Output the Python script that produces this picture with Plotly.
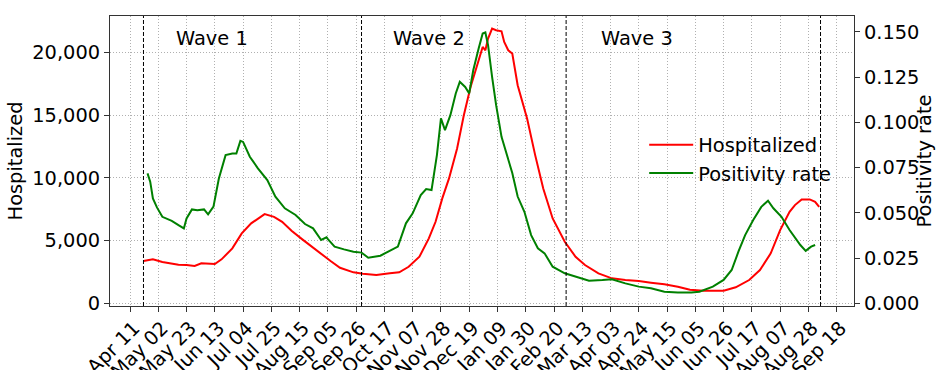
import plotly.graph_objects as go

# ---- data ----
hosp_dates = ["2020-04-21","2020-04-28","2020-05-05","2020-05-12","2020-05-17","2020-05-23","2020-05-29",
              "2020-06-03","2020-06-13","2020-06-18","2020-06-26","2020-07-03","2020-07-10","2020-07-20",
              "2020-07-27","2020-08-02","2020-08-09","2020-08-17","2020-08-24","2020-08-31","2020-09-07",
              "2020-09-14","2020-09-24","2020-10-01","2020-10-11","2020-10-21","2020-10-28","2020-11-04",
              "2020-11-12","2020-11-19","2020-11-24","2020-11-29","2020-12-04","2020-12-10","2020-12-15",
              "2020-12-20","2020-12-25","2020-12-29","2020-12-31","2021-01-02","2021-01-05","2021-01-08",
              "2021-01-12","2021-01-14","2021-01-17","2021-01-20","2021-01-24","2021-01-31","2021-02-06",
              "2021-02-12","2021-02-19","2021-02-28","2021-03-08","2021-03-15","2021-03-25","2021-04-04",
              "2021-04-14","2021-04-24","2021-05-03","2021-05-13","2021-05-23","2021-06-01","2021-06-11",
              "2021-06-26","2021-07-05","2021-07-15","2021-07-23","2021-07-31","2021-08-07","2021-08-14",
              "2021-08-18","2021-08-23","2021-08-29","2021-09-02","2021-09-05"]
hospitalized = [3370,3506,3290,3187,3076,3052,2972,
                3187,3131,3506,4382,5578,6375,7115,
                6900,6502,5785,5100,4510,3904,3370,
                2837,2470,2359,2255,2390,2470,2916,
                3713,5179,6502,8367,9960,12350,15000,
                17260,18990,20450,20180,21110,21910,21780,
                21700,20845,20180,19920,17390,14740,11820,
                9160,6770,4908,3713,3052,2390,1992,
                1857,1777,1641,1514,1323,1090,1004,
                1004,1275,1857,2653,3984,5840,7300,
                7833,8287,8287,8096,7697]

pos_dates = ["2020-04-24","2020-04-26","2020-04-28","2020-05-01","2020-05-05","2020-05-08","2020-05-12",
             "2020-05-17","2020-05-21","2020-05-23","2020-05-27","2020-05-31","2020-06-05","2020-06-08",
             "2020-06-12","2020-06-16","2020-06-21","2020-06-26","2020-06-29","2020-07-02","2020-07-04",
             "2020-07-09","2020-07-15","2020-07-22","2020-07-28","2020-08-04","2020-08-12","2020-08-19",
             "2020-08-25","2020-08-31","2020-09-04","2020-09-05","2020-09-10","2020-09-17","2020-09-24",
             "2020-09-30","2020-10-05","2020-10-14","2020-10-21","2020-10-27","2020-11-02","2020-11-07",
             "2020-11-13","2020-11-17","2020-11-21","2020-11-25","2020-11-28","2020-12-01","2020-12-05",
             "2020-12-09","2020-12-12","2020-12-16","2020-12-19","2020-12-22","2020-12-26","2020-12-29",
             "2020-12-31","2021-01-02","2021-01-05","2021-01-08","2021-01-12","2021-01-15","2021-01-20",
             "2021-01-24","2021-01-29","2021-02-03","2021-02-08","2021-02-13","2021-02-19","2021-02-28",
             "2021-03-08","2021-03-18","2021-03-28","2021-04-04","2021-04-14","2021-04-24","2021-05-03",
             "2021-05-13","2021-05-23","2021-06-02","2021-06-08","2021-06-18","2021-06-26","2021-07-02",
             "2021-07-07","2021-07-12","2021-07-18","2021-07-24","2021-07-29","2021-08-02","2021-08-08",
             "2021-08-14","2021-08-22","2021-08-26","2021-08-30","2021-09-02"]
positivity = [0.0718,0.0672,0.058,0.053,0.0478,0.0469,0.0456,
              0.0432,0.0414,0.0469,0.0519,0.0515,0.0519,0.0492,
              0.0534,0.069,0.0819,0.0828,0.0828,0.0898,0.0892,
              0.081,0.0746,0.0681,0.0589,0.0525,0.0488,0.0438,
              0.0414,0.035,0.0365,0.0355,0.0313,0.0298,0.0285,
              0.028,0.0252,0.0263,0.0289,0.0313,0.0442,0.0497,
              0.0598,0.0631,0.0626,0.0819,0.1022,0.0957,0.104,
              0.116,0.1224,0.1196,0.116,0.1288,0.1408,0.1491,
              0.1497,0.1427,0.1251,0.1095,0.092,0.084,0.072,
              0.059,0.0506,0.0377,0.0304,0.0276,0.0202,0.0166,
              0.0147,0.0125,0.0129,0.0133,0.011,0.0092,0.0083,
              0.0064,0.0059,0.0059,0.0064,0.0092,0.0129,0.0184,
              0.0285,0.0377,0.046,0.0533,0.0567,0.0525,0.0478,
              0.0405,0.0322,0.029,0.0313,0.0322]

wave_bounds = ["2020-04-21", "2020-09-30", "2021-03-01", "2021-09-06"]
wave_labels = ["Wave 1", "Wave 2", "Wave 3"]
wave_label_x = ["2020-06-11", "2020-11-19", "2021-04-23"]
wave_label_y = 21150

x_ticks = ["2020-04-11","2020-05-02","2020-05-23","2020-06-13","2020-07-04","2020-07-25","2020-08-15",
           "2020-09-05","2020-09-26","2020-10-17","2020-11-07","2020-11-28","2020-12-19","2021-01-09",
           "2021-01-30","2021-02-20","2021-03-13","2021-04-03","2021-04-24","2021-05-15","2021-06-05",
           "2021-06-26","2021-07-17","2021-08-07","2021-08-28","2021-09-18"]
hosp_ticks = [0, 5000, 10000, 15000, 20000]
pos_ticks = [0.0, 0.025, 0.05, 0.075, 0.1, 0.125, 0.15]

FONT = "DejaVu Sans"
FS = 19.4

fig = go.Figure()
fig.add_trace(go.Scatter(x=hosp_dates, y=hospitalized, mode="lines", name="Hospitalized",
                         line=dict(color="red", width=2), yaxis="y"))
fig.add_trace(go.Scatter(x=pos_dates, y=positivity, mode="lines", name="Positivity rate",
                         line=dict(color="green", width=2), yaxis="y2"))

for d in wave_bounds:
    fig.add_shape(type="line", xref="x", yref="paper", x0=d, x1=d, y0=0, y1=1,
                  line=dict(color="black", width=1, dash="4px,2px"))

for lab, xd in zip(wave_labels, wave_label_x):
    fig.add_annotation(x=xd, y=wave_label_y, xref="x", yref="y", text=lab, showarrow=False,
                       font=dict(family=FONT, size=FS, color="black"))

axis_common = dict(showline=True, linecolor="#333333", linewidth=1, ticks="outside", ticklen=5,
                   tickcolor="#333333", zeroline=False, automargin=False,
                   tickfont=dict(family=FONT, size=FS, color="black"))

fig.update_layout(
    width=936, height=370,
    margin=dict(l=110, r=82, t=16, b=64, autoexpand=False),
    paper_bgcolor="white", plot_bgcolor="white",
    font=dict(family=FONT, size=FS, color="black"),
    showlegend=True,
    legend=dict(x=0.718, y=0.622, xanchor="left", yanchor="top", bgcolor="rgba(255,255,255,0)",
                itemwidth=44, font=dict(family=FONT, size=FS, color="black")),
    xaxis=dict(**axis_common, type="date", range=["2020-03-27 03:00", "2021-09-30 21:00"],
               tickvals=x_ticks, tickformat="%b %d", tickangle=-45, mirror=True,
               ticklabelstandoff=-3, ticklabelshift=4,
               showgrid=True, gridcolor="#b0b0b0", griddash="1px,2px", gridwidth=1),
    yaxis=dict(**axis_common, range=[-215, 22916], tickvals=hosp_ticks, tickformat=",d",
               showgrid=True, gridcolor="#b0b0b0", griddash="1px,2px", gridwidth=1,
               title=dict(text="Hospitalized", font=dict(family=FONT, size=FS), standoff=4)),
    yaxis2=dict(**axis_common, overlaying="y", side="right", range=[-0.0015, 0.1588],
                tickvals=pos_ticks, tickformat=".3f", showgrid=False,
                title=dict(text="Positivity rate", font=dict(family=FONT, size=FS), standoff=0)),
)

fig.write_html("out.html", config={"displayModeBar": False},
               post_script="document.body.style.margin='0';document.body.style.padding='0';")
